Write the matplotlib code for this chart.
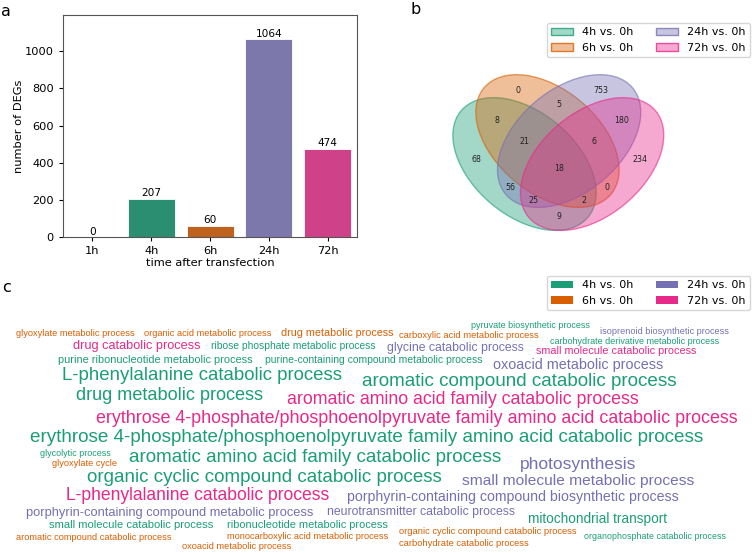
import matplotlib.pyplot as plt
import numpy as np
from matplotlib.patches import Ellipse, Patch
from matplotlib.colors import to_rgb

# Data
timepoints = ["1h", "4h", "6h", "24h", "72h"]
deg_counts = [0, 207, 60, 1064, 474]

comparisons = ["4h vs. 0h", "6h vs. 0h", "24h vs. 0h", "72h vs. 0h"]

# venn regions, membership flags in order 4h, 6h, 24h, 72h
venn_regions = ["0001", "0010", "0011", "0100", "0101", "0110", "0111", "1000",
                "1001", "1010", "1011", "1100", "1101", "1110", "1111"]
venn_counts = [234, 753, 180, 0, 0, 5, 6, 68, 9, 56, 25, 8, 2, 21, 18]

# enriched GO terms and the comparison (index into comparisons) they belong to
go_terms = [
    "glyoxylate metabolic process",
    "organic acid metabolic process",
    "drug metabolic process",
    "carboxylic acid metabolic process",
    "pyruvate biosynthetic process",
    "isoprenoid biosynthetic process",
    "drug catabolic process",
    "ribose phosphate metabolic process",
    "glycine catabolic process",
    "carbohydrate derivative metabolic process",
    "small molecule catabolic process",
    "purine ribonucleotide metabolic process",
    "purine-containing compound metabolic process",
    "oxoacid metabolic process",
    "L-phenylalanine catabolic process",
    "aromatic compound catabolic process",
    "drug metabolic process",
    "aromatic amino acid family catabolic process",
    "erythrose 4-phosphate/phosphoenolpyruvate family amino acid catabolic process",
    "erythrose 4-phosphate/phosphoenolpyruvate family amino acid catabolic process",
    "glycolytic process",
    "glyoxylate cycle",
    "aromatic amino acid family catabolic process",
    "photosynthesis",
    "organic cyclic compound catabolic process",
    "small molecule metabolic process",
    "L-phenylalanine catabolic process",
    "porphyrin-containing compound biosynthetic process",
    "porphyrin-containing compound metabolic process",
    "neurotransmitter catabolic process",
    "mitochondrial transport",
    "small molecule catabolic process",
    "ribonucleotide metabolic process",
    "aromatic compound catabolic process",
    "monocarboxylic acid metabolic process",
    "organic cyclic compound catabolic process",
    "organophosphate catabolic process",
    "oxoacid metabolic process",
    "carbohydrate catabolic process",
]
go_groups = [1, 1, 1, 1, 0, 2,
             3, 0, 2, 0, 3,
             0, 0, 2,
             0, 0, 0, 3, 3, 0,
             0, 1, 0, 2, 0, 2, 3, 2, 2, 2,
             0, 0, 0, 1, 1, 1, 0, 1, 1]

# word cloud layout in figure pixels: left, right, vertical centre
cloud_layout = [
    (16, 135, 333), (144, 272, 333), (281, 392, 333), (399, 539, 335.5),
    (471, 590, 325.5), (600, 728, 331.5),
    (73, 201, 346), (211, 376, 346), (387, 523, 348), (550, 720, 341.5),
    (536, 696, 351.5),
    (58, 252, 360), (265, 483, 360), (493, 663, 365),
    (62, 344, 375), (362, 680, 381), (76, 264, 395), (287, 642, 399.5),
    (96, 738, 418.5), (30, 709, 437),
    (40, 111, 453.5), (52, 117, 464), (129, 505, 457.5), (520, 636, 465),
    (87, 443, 477.5), (462, 694, 481.5), (66, 331, 496), (347, 677, 496.5),
    (26, 314, 513), (327, 515, 512.5),
    (528, 667, 519), (49, 215, 525.5), (227, 388, 525), (16, 173, 538),
    (227, 388, 536.5), (399, 577, 531.5), (584, 724, 536.5), (182, 291, 546.5),
    (399, 529, 543),
]

dark2 = ["#1b9e77", "#d95f02", "#7570b3", "#e7298a"]
bar_colors = ["#8c8c8c", "#2b8e70", "#be621d", "#7c78ab", "#cf4189"]

fig = plt.figure(figsize=(7.52, 5.53), dpi=100)

# c - word cloud, drawn on a full-figure canvas in pixel units
axc = fig.add_axes([0, 0, 1, 1])
axc.set_xlim(0, 752)
axc.set_ylim(553, 0)
axc.axis("off")
renderer = fig.canvas.get_renderer()
for term, g, (x0, x1, yc) in zip(go_terms, go_groups, cloud_layout):
    t = axc.text(x0, yc, term, fontsize=10, color=dark2[g], ha="left",
                 va="center", family="Liberation Sans")
    w = t.get_window_extent(renderer).width
    t.set_fontsize(10 * (x1 - x0) / w)

# a - bar chart
ax = fig.add_axes([0.0838, 0.571, 0.391, 0.402])
x = np.arange(len(timepoints))
bars = ax.bar(x, deg_counts, width=0.8, color=bar_colors, edgecolor="white", linewidth=0.6)
ax.bar_label(bars, fontsize=7.6, padding=0.5)
ax.set_xticks(x)
ax.set_xticklabels(timepoints)
ax.set_xlim(-0.5, 4.5)
ax.set_ylim(0, 1195)
ax.set_yticks([0, 200, 400, 600, 800, 1000])
ax.tick_params(labelsize=8.2, length=3)
ax.set_xlabel("time after transfection", fontsize=8.2, labelpad=1)
ax.set_ylabel("number of DEGs", fontsize=8.2, labelpad=1)
for s in ax.spines.values():
    s.set_color("#555555")

# b - venn diagram
axv = fig.add_axes([0.5904, 0.537, 0.3059, 0.4159])
axv.set_xlim(0, 1)
axv.set_ylim(0, 1)
axv.axis("off")
ellipses = [(0.350, 0.400, 140.0), (0.450, 0.500, 140.0),
            (0.544, 0.500, 40.0), (0.644, 0.400, 40.0)]
handles = []
for (cx, cy, ang), c, lab in zip(ellipses, dark2, comparisons):
    rgb = to_rgb(c)
    e = Ellipse((cx, cy), 0.72, 0.45, angle=ang, facecolor=(*rgb, 0.4),
                edgecolor=(*rgb, 0.6), linewidth=1)
    axv.add_patch(e)
    handles.append(Patch(facecolor=(*rgb, 0.4), edgecolor=(*rgb, 0.8), label=lab))
label_pos = {
    "0001": (0.85, 0.42), "0010": (0.68, 0.72), "0011": (0.77, 0.59),
    "0100": (0.32, 0.72), "0101": (0.71, 0.30), "0110": (0.50, 0.66),
    "0111": (0.65, 0.50), "1000": (0.14, 0.42), "1001": (0.50, 0.17),
    "1010": (0.29, 0.30), "1011": (0.39, 0.24), "1100": (0.23, 0.59),
    "1101": (0.61, 0.24), "1110": (0.35, 0.50), "1111": (0.50, 0.38),
}
for key, n in zip(venn_regions, venn_counts):
    px, py = label_pos[key]
    axv.text(px, py, str(n), fontsize=5.7, ha="center", va="center", color="#222222")

fig.legend(handles=handles, loc="upper right", bbox_to_anchor=(750 / 752, 1 - 23 / 553),
           ncol=2, fontsize=8, borderaxespad=0)

solid = [Patch(facecolor=c, label=lab) for c, lab in zip(dark2, comparisons)]
fig.legend(handles=solid, loc="upper right", bbox_to_anchor=(750 / 752, 1 - 276 / 553),
           ncol=2, fontsize=8, borderaxespad=0)

# panel letters
fig.text(1 / 752, 1 - 11 / 553, "a", fontsize=11.5, va="center")
fig.text(411 / 752, 1 - 9 / 553, "b", fontsize=11.5, va="center")
fig.text(2 / 752, 1 - 288 / 553, "c", fontsize=11.5, va="center")

fig.savefig("out.png", dpi=100)
